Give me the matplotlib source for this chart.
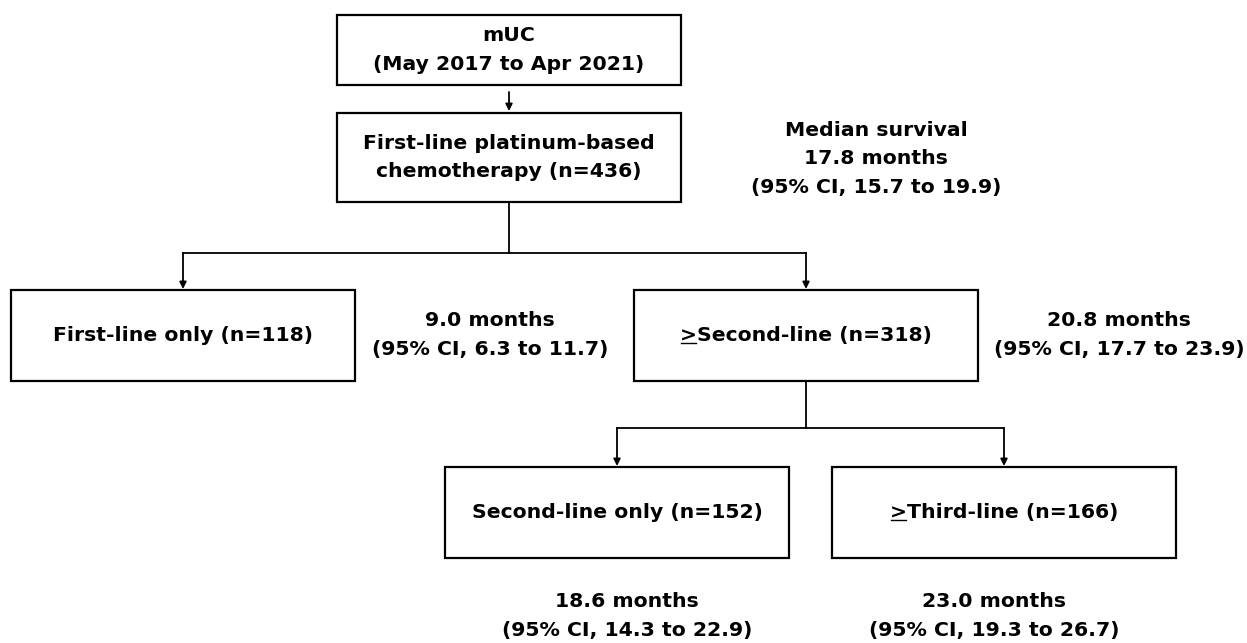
# flowchart: survival by line of treatment in mUC
import matplotlib.pyplot as plt
from matplotlib.patches import Rectangle

plt.rcParams['font.family'] = ['DejaVu Sans']

# box texts
box_labels = [
    'mUC\n(May 2017 to Apr 2021)',
    'First-line platinum-based\nchemotherapy (n=436)',
    'First-line only (n=118)',
    '>Second-line (n=318)',
    'Second-line only (n=152)',
    '>Third-line (n=166)',
]
underline_first = [False, False, False, True, False, True]

# survival annotations
surv_months = ['17.8', '9.0', '20.8', '18.6', '23.0']
surv_ci = ['15.7 to 19.9', '6.3 to 11.7', '17.7 to 23.9', '14.3 to 22.9', '19.3 to 26.7']

# layout in pixels (x center, y top, y bottom), box width
BW = 344
boxes = [(509, 15, 85), (509, 113, 202), (183, 290, 381),
         (806, 290, 381), (617, 467, 558), (1004, 467, 558)]
surv_pos = [(876, 159), (490, 335), (1119, 335), (627, 616), (994, 616)]

fig = plt.figure(figsize=(12.47, 6.43), dpi=100)
ax = fig.add_axes([0, 0, 1, 1])
ax.set_xlim(0, 1247)
ax.set_ylim(643, 0)
ax.axis('off')

FS = 14.7
LS = 1.62
renderer = fig.canvas.get_renderer()

for (cx, y0, y1), lab, ul in zip(boxes, box_labels, underline_first):
    ax.add_patch(Rectangle((cx - BW / 2, y0), BW, y1 - y0, fill=False,
                           edgecolor='black', lw=1.6))
    t = ax.text(cx, (y0 + y1) / 2, lab, ha='center', va='center',
                fontsize=FS, fontweight='bold', linespacing=LS)
    if ul:
        bb = t.get_window_extent(renderer).transformed(ax.transData.inverted())
        tmp = ax.text(0, 0, '>', fontsize=FS, fontweight='bold')
        gw = tmp.get_window_extent(renderer).width
        tmp.remove()
        x0 = min(bb.x0, bb.x1)
        yb = max(bb.y0, bb.y1) - 2
        ax.plot([x0 + 1, x0 + gw - 1], [yb, yb], color='black', lw=1.0)


def arrow(x, ya, yb):
    ax.annotate('', xy=(x, yb), xytext=(x, ya),
                arrowprops=dict(arrowstyle='-|>', color='black', lw=1.3,
                                mutation_scale=10, shrinkA=0, shrinkB=0))


def branch(px, ytop, ybar, lx, rx, ychild):
    ax.plot([px, px], [ytop, ybar], color='black', lw=1.3)
    ax.plot([lx, rx], [ybar, ybar], color='black', lw=1.3)
    arrow(lx, ybar, ychild)
    arrow(rx, ybar, ychild)


arrow(509, 92, 111)
branch(509, 202, 253, boxes[2][0], boxes[3][0], 289)
branch(boxes[3][0], 381, 428, boxes[4][0], boxes[5][0], 466)

for i, ((x, y), m, ci) in enumerate(zip(surv_pos, surv_months, surv_ci)):
    txt = f'{m} months\n(95% CI, {ci})'
    if i == 0:
        txt = 'Median survival\n' + txt
    ax.text(x, y, txt, ha='center', va='center', fontsize=FS,
            fontweight='bold', linespacing=LS)

fig.savefig('out.png', dpi=100)
